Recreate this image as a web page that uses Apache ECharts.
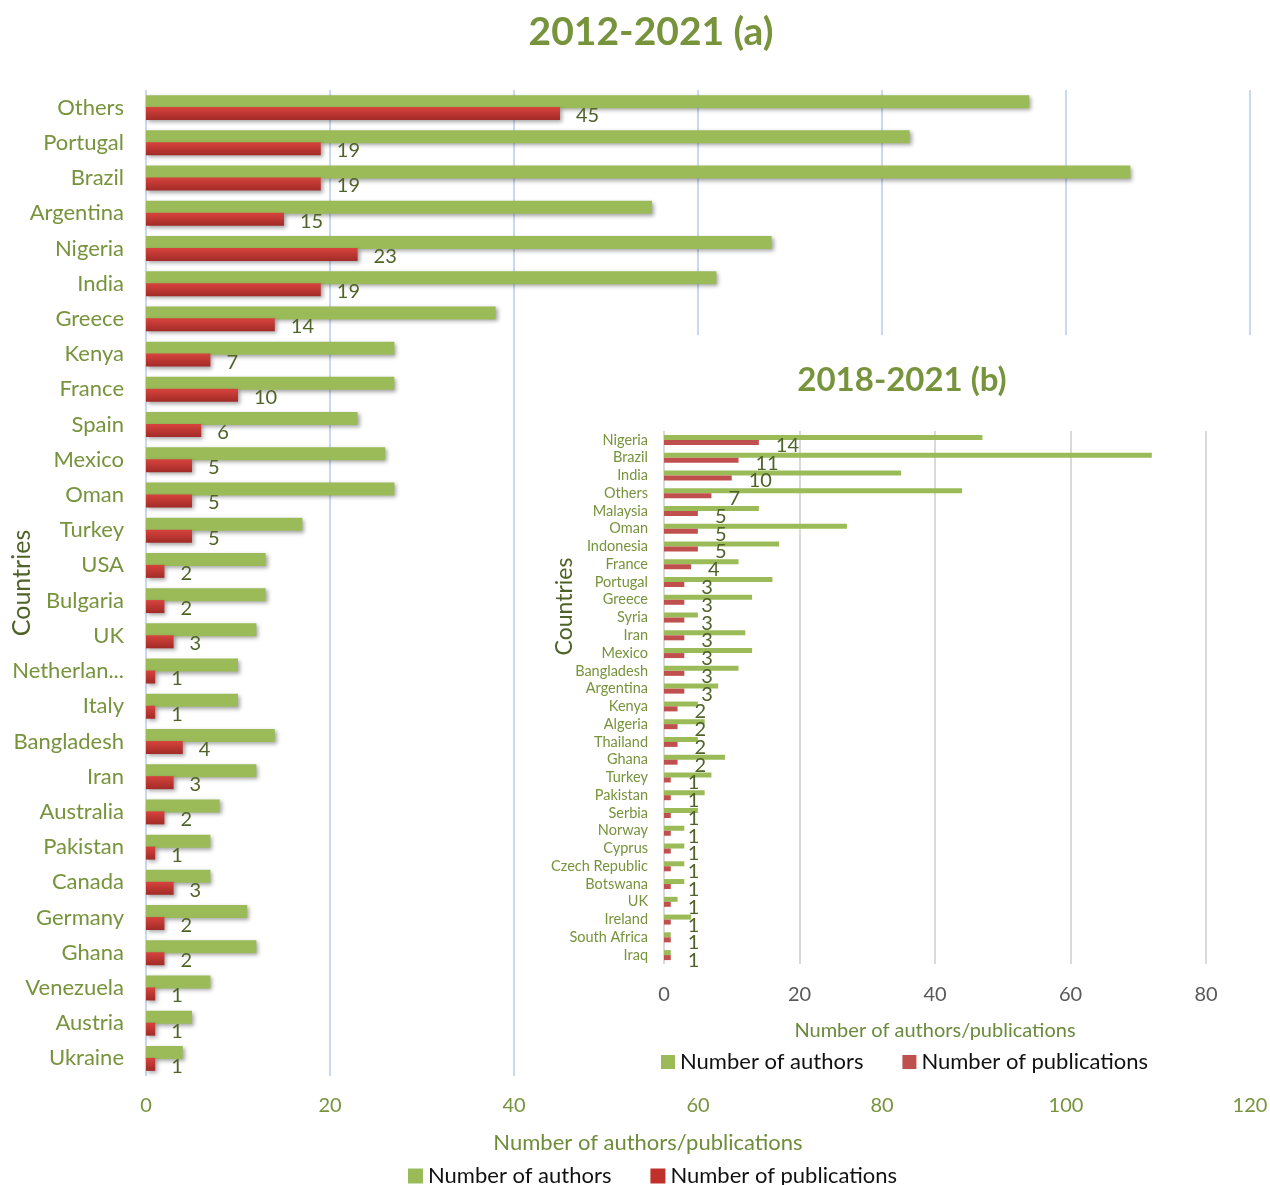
<!DOCTYPE html>
<html>
<head>
<meta charset="utf-8">
<script src="https://cdn.jsdelivr.net/npm/echarts@6/dist/echarts.min.js"></script>
<style>
html,body{margin:0;padding:0;background:#fff;}
#main{position:absolute;left:0;top:0;width:1270px;height:1185px;}
#inset{position:absolute;left:530px;top:335px;width:738px;height:750px;background:#fff;}
</style>
</head>
<body>
<div id="main"></div>
<div id="inset"></div>
<script>
// ---- Chart (a) 2012-2021 ----
const catsA = ['Others','Portugal','Brazil','Argentina','Nigeria','India','Greece','Kenya','France','Spain','Mexico','Oman','Turkey','USA','Bulgaria','UK','Netherlan...','Italy','Bangladesh','Iran','Australia','Pakistan','Canada','Germany','Ghana','Venezuela','Austria','Ukraine'];
const authorsA = [96,83,107,55,68,62,38,27,27,23,26,27,17,13,13,12,10,10,14,12,8,7,7,11,12,7,5,4];
const pubsA = [45,19,19,15,23,19,14,7,10,6,5,5,5,2,2,3,1,1,4,3,2,1,3,2,2,1,1,1];
const ticksA = [0,20,40,60,80,100,120];

// ---- Chart (b) 2018-2021 ----
const catsB = ['Nigeria','Brazil','India','Others','Malaysia','Oman','Indonesia','France','Portugal','Greece','Syria','Iran','Mexico','Bangladesh','Argentina','Kenya','Algeria','Thailand','Ghana','Turkey','Pakistan','Serbia','Norway','Cyprus','Czech Republic','Botswana','UK','Ireland','South Africa','Iraq'];
const authorsB = [47,72,35,44,14,27,17,11,16,13,5,12,13,11,8,5,6,5,9,7,6,5,3,3,3,3,2,4,1,1];
const pubsB = [14,11,10,7,5,5,5,4,3,3,3,3,3,3,3,2,2,2,2,1,1,1,1,1,1,1,1,1,1,1];
const ticksB = [0,20,40,60,80];

const FONT = 'Lato, "Open Sans", sans-serif';
const shadow = {shadowBlur:4, shadowOffsetX:2, shadowOffsetY:2, shadowColor:'rgba(0,0,0,0.35)'};

const chartA = echarts.init(document.getElementById('main'), null, {renderer:'canvas'});
chartA.setOption({
  animation:false,
  textStyle:{fontFamily:FONT},
  title:{text:'2012-2021 (a)', left:646, textAlign:'center', top:8,
    textStyle:{fontSize:39, fontWeight:'bold', color:'#77933c', fontFamily:FONT}},
  legend:{left:403, top:1160, icon:'rect', itemWidth:15, itemHeight:15, itemGap:39,
    textStyle:{fontSize:22, color:'#111', fontFamily:FONT},
    data:[{name:'Number of authors', itemStyle:{color:'#9bbb59'}},{name:'Number of publications', itemStyle:{color:'#c0302b'}}]},
  grid:{left:146, top:90, width:1104, height:986, containLabel:false, outerBoundsMode:'none'},
  xAxis:{type:'value', min:ticksA[0], max:ticksA[ticksA.length-1], interval:ticksA[1]-ticksA[0],
    axisLine:{show:false}, axisTick:{show:false},
    axisLabel:{fontSize:20, color:'#77933c', margin:20, fontFamily:FONT},
    splitLine:{lineStyle:{color:'#c9daf0', width:2}},
    name:'Number of authors/publications', nameLocation:'middle', nameGap:56, nameMoveOverlap:false,
    nameTextStyle:{fontSize:22, color:'#6f8c3a', padding:[0,100,0,0], fontFamily:FONT}},
  yAxis:{type:'category', inverse:true, data:catsA,
    axisLine:{show:false}, axisTick:{show:false},
    axisLabel:{fontSize:22, color:'#77933c', margin:22, interval:0, fontFamily:FONT},
    name:'Countries', nameLocation:'middle', nameGap:112, nameMoveOverlap:false,
    nameTextStyle:{fontSize:25, color:'#4f6228', fontFamily:FONT}},
  series:[
    {name:'Number of authors', type:'bar', data:authorsA, barWidth:13, barGap:'-8%',
      itemStyle:Object.assign({color:'#9bbb59'}, shadow)},
    {name:'Number of publications', type:'bar', data:pubsA, barWidth:13,
      itemStyle:Object.assign({color:new echarts.graphic.LinearGradient(0,0,0,1,[{offset:0,color:'#d8433d'},{offset:1,color:'#a12b27'}])}, shadow),
      label:{show:true, position:'right', distance:16, offset:[0,2], fontSize:20, color:'#4f6228', fontFamily:FONT}}
  ]
});

const chartB = echarts.init(document.getElementById('inset'), null, {renderer:'canvas'});
chartB.setOption({
  animation:false,
  textStyle:{fontFamily:FONT},
  title:{text:'2018-2021 (b)', left:367, textAlign:'center', top:24,
    textStyle:{fontSize:33, fontWeight:'bold', color:'#77933c', fontFamily:FONT}},
  legend:{left:126, top:711, icon:'rect', itemWidth:14, itemHeight:14, itemGap:39,
    textStyle:{fontSize:22, color:'#111', fontFamily:FONT},
    data:[{name:'Number of authors', itemStyle:{color:'#9bbb59'}},{name:'Number of publications', itemStyle:{color:'#c0504d'}}]},
  grid:{left:134, top:96, width:542, height:533, containLabel:false, outerBoundsMode:'none'},
  xAxis:{type:'value', min:ticksB[0], max:ticksB[ticksB.length-1], interval:ticksB[1]-ticksB[0],
    axisLine:{show:false}, axisTick:{show:false},
    axisLabel:{fontSize:20, color:'#595959', margin:21, fontFamily:FONT},
    splitLine:{lineStyle:{color:'#d9d9d9', width:2}},
    name:'Number of authors/publications', nameLocation:'middle', nameGap:57, nameMoveOverlap:false,
    nameTextStyle:{fontSize:20, color:'#6a8a3c', fontFamily:FONT}},
  yAxis:{type:'category', inverse:true, data:catsB,
    axisLine:{show:false}, axisTick:{show:false},
    axisLabel:{fontSize:14.5, color:'#77933c', margin:16, interval:0, fontFamily:FONT},
    name:'Countries', nameLocation:'middle', nameGap:88, nameMoveOverlap:false,
    nameTextStyle:{fontSize:23, color:'#4f6228', padding:[0,0,0,182], fontFamily:FONT}},
  series:[
    {name:'Number of authors', type:'bar', data:authorsB, barWidth:5, barGap:'0%',
      itemStyle:{color:'#9bbb59'}},
    {name:'Number of publications', type:'bar', data:pubsB, barWidth:5,
      itemStyle:{color:'#c0504d'},
      label:{show:true, position:'right', distance:17, offset:[0,3], fontSize:20, color:'#4f6228', fontFamily:FONT}}
  ]
});
</script>
</body>
</html>
